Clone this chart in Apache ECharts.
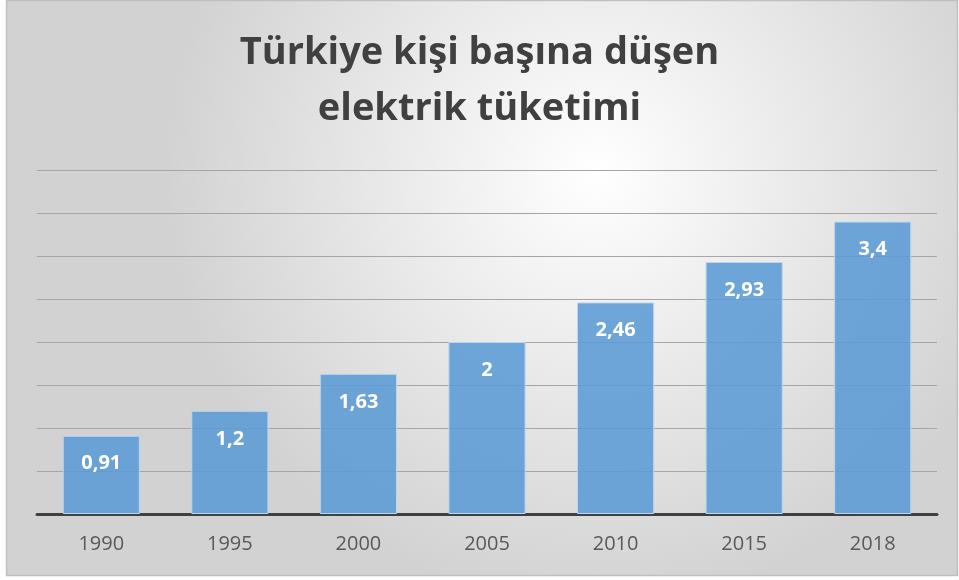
<!DOCTYPE html>
<html><head><meta charset="utf-8">
<script src="https://cdn.jsdelivr.net/npm/echarts@6/dist/echarts.min.js"></script>
<style>html,body{margin:0;padding:0;background:#fff}#c{width:959px;height:580px}</style>
</head><body><div id="c"></div>
<script>
const years = ['1990','1995','2000','2005','2010','2015','2018'];
const values = [0.91, 1.2, 1.63, 2, 2.46, 2.93, 3.4];
const titleText = 'Türkiye kişi başına düşen\nelektrik tüketimi';

const chart = echarts.init(document.getElementById('c'));
chart.setOption({
  backgroundColor: 'transparent',
  graphic: [{
    type: 'rect', z: -10, silent: true,
    shape: { x: 6.5, y: 0.5, width: 951, height: 575 },
    style: {
      fill: { type: 'radial', x: 0.62, y: 0.3, r: 0.75,
        colorStops: [{ offset: 0, color: '#ffffff' }, { offset: 1, color: '#d2d2d2' }] },
      stroke: '#bfbfbf', lineWidth: 1.5
    }
  }],
  title: {
    text: titleText, left: 'center', top: 20,
    textStyle: { fontFamily: 'Open Sans', fontWeight: 'bold', fontSize: 38, color: '#404040', lineHeight: 56 }
  },
  grid: { left: 37, right: 22, top: 170, bottom: 66 },
  xAxis: {
    type: 'category', data: years,
    axisLine: { lineStyle: { color: '#404040', width: 3 } },
    axisTick: { show: false },
    axisLabel: { color: '#595959', fontSize: 20, fontFamily: 'Open Sans', margin: 20 }
  },
  yAxis: {
    type: 'value', min: 0, max: 4, interval: 0.5,
    axisLabel: { show: false }, axisLine: { show: false }, axisTick: { show: false },
    splitLine: { lineStyle: { color: '#a6a6a6', width: 1 } }
  },
  series: [{
    type: 'bar', data: values, barCategoryGap: '40%',
    itemStyle: { color: 'rgba(91,155,213,0.88)', borderColor: '#bcd6ee', borderWidth: 1 },
    label: {
      show: true, position: 'insideTop', distance: 18, color: '#ffffff',
      fontFamily: 'Open Sans', fontWeight: 'bold', fontSize: 20,
      formatter: p => String(p.value).replace('.', ',')
    }
  }]
});
</script></body></html>
